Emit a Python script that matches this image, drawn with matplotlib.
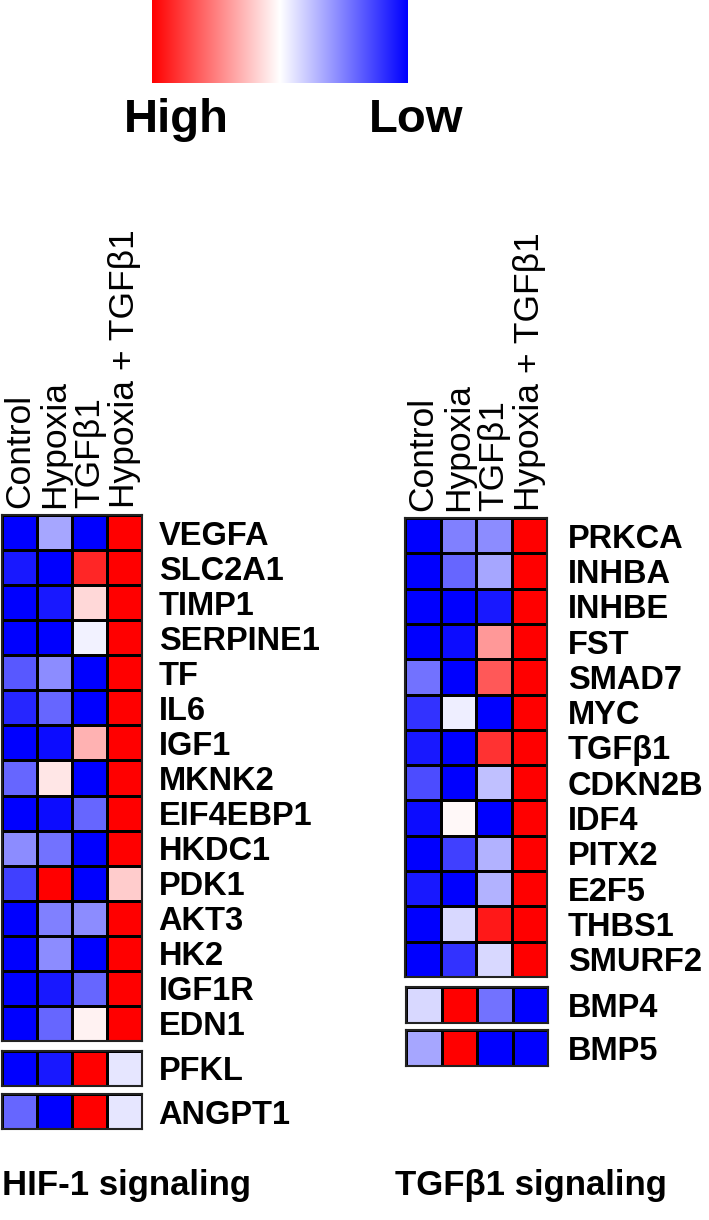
import numpy as np
import matplotlib
matplotlib.use('Agg')
import matplotlib.pyplot as plt
from matplotlib.colors import LinearSegmentedColormap, Normalize
from matplotlib.cm import ScalarMappable

plt.rcParams['font.family'] = ['Liberation Sans', 'DejaVu Sans']

conditions = ['Control', 'Hypoxia', 'TGF\u03b21', 'Hypoxia + TGF\u03b21']

# HIF-1 signaling (+1 = high/red, -1 = low/blue)
hif_genes = ['VEGFA', 'SLC2A1', 'TIMP1', 'SERPINE1', 'TF', 'IL6', 'IGF1', 'MKNK2',
             'EIF4EBP1', 'HKDC1', 'PDK1', 'AKT3', 'HK2', 'IGF1R', 'EDN1']
hif_vals = [[-1.0, -0.35, -1.0, 1.0],
            [-0.9, -1.0, 0.85, 1.0],
            [-1.0, -0.9, 0.15, 1.0],
            [-1.0, -1.0, -0.05, 1.0],
            [-0.65, -0.45, -1.0, 1.0],
            [-0.85, -0.6, -1.0, 1.0],
            [-1.0, -0.95, 0.3, 1.0],
            [-0.6, 0.1, -1.0, 1.0],
            [-1.0, -0.95, -0.6, 1.0],
            [-0.45, -0.55, -1.0, 1.0],
            [-0.75, 1.0, -1.0, 0.2],
            [-1.0, -0.5, -0.45, 1.0],
            [-1.0, -0.45, -1.0, 1.0],
            [-1.0, -0.9, -0.6, 1.0],
            [-1.0, -0.6, 0.05, 1.0]]
pfkl_vals = [-1.0, -0.9, 1.0, -0.1]
angpt1_vals = [-0.6, -1.0, 1.0, -0.1]

# TGFb1 signaling
tgf_genes = ['PRKCA', 'INHBA', 'INHBE', 'FST', 'SMAD7', 'MYC', 'TGF\u03b21', 'CDKN2B',
             'IDF4', 'PITX2', 'E2F5', 'THBS1', 'SMURF2']
tgf_vals = [[-1.0, -0.5, -0.45, 1.0],
            [-1.0, -0.6, -0.35, 1.0],
            [-1.0, -1.0, -0.9, 1.0],
            [-1.0, -0.95, 0.4, 1.0],
            [-0.55, -1.0, 0.65, 1.0],
            [-0.8, -0.07, -1.0, 1.0],
            [-0.9, -1.0, 0.8, 1.0],
            [-0.7, -1.0, -0.25, 1.0],
            [-0.95, 0.03, -1.0, 1.0],
            [-1.0, -0.75, -0.3, 1.0],
            [-0.9, -1.0, -0.3, 1.0],
            [-1.0, -0.15, 0.9, 1.0],
            [-1.0, -0.8, -0.15, 1.0]]
bmp4_vals = [-0.15, 1.0, -0.55, -1.0]
bmp5_vals = [-0.35, 1.0, -1.0, -1.0]

cmap = LinearSegmentedColormap.from_list('bwr_ref', ['#0000ff', '#ffffff', '#ff0000'])
norm = Normalize(-1, 1)

W, H = 709, 1220
fig = plt.figure(figsize=(W / 100, H / 100), dpi=100)


def px_axes(x0, y0, x1, y1):
    return fig.add_axes([x0 / W, 1 - y1 / H, (x1 - x0) / W, (y1 - y0) / H])


def heat(ax, vals, genes, header=False, pad=12):
    data = np.array(vals, dtype=float)
    ax.pcolormesh(data, cmap=cmap, norm=norm, edgecolors='black', linewidth=1.8)
    ax.set_xlim(0, data.shape[1])
    ax.set_ylim(data.shape[0], 0)
    ax.yaxis.tick_right()
    ax.set_yticks(np.arange(len(genes)) + 0.5)
    ax.set_yticklabels(genes, fontsize=23.5, fontweight='bold')
    ax.tick_params(axis='y', length=0, pad=pad)
    if header:
        ax.xaxis.tick_top()
        ax.set_xticks(np.arange(len(conditions)) + 0.5)
        ax.set_xticklabels(conditions, rotation=90, fontsize=25.5)
        ax.tick_params(axis='x', length=0, pad=5)
    else:
        ax.set_xticks([])
    for s in ax.spines.values():
        s.set_linewidth(1.5)
        s.set_color('#222222')


# left block
heat(px_axes(2, 515, 142, 1041), hif_vals, hif_genes, header=True, pad=12)
heat(px_axes(2, 1051, 142, 1086), [pfkl_vals], ['PFKL'], pad=12)
heat(px_axes(2, 1094, 142, 1129), [angpt1_vals], ['ANGPT1'], pad=12)

# right block
heat(px_axes(405, 518, 547, 977), tgf_vals, tgf_genes, header=True, pad=15)
heat(px_axes(406, 987, 548, 1023), [bmp4_vals], ['BMP4'], pad=14)
heat(px_axes(406, 1030, 548, 1066), [bmp5_vals], ['BMP5'], pad=14)

# colour key
cax = px_axes(152, 0, 408, 83)
cb = fig.colorbar(ScalarMappable(norm=norm, cmap=cmap), cax=cax, orientation='horizontal')
cb.outline.set_visible(False)
cax.invert_xaxis()
cax.set_xticks([])
fig.text(176 / W, 1 - 120 / H, 'High', fontsize=34, fontweight='bold', ha='center', va='center')
fig.text(416 / W, 1 - 120 / H, 'Low', fontsize=34, fontweight='bold', ha='center', va='center')

fig.text(2 / W, 1 - 1186 / H, 'HIF-1 signaling', fontsize=25, fontweight='bold', ha='left', va='center')
fig.text(395 / W, 1 - 1186 / H, 'TGF\u03b21 signaling', fontsize=25, fontweight='bold', ha='left', va='center')

fig.savefig('out.png', dpi=100)
